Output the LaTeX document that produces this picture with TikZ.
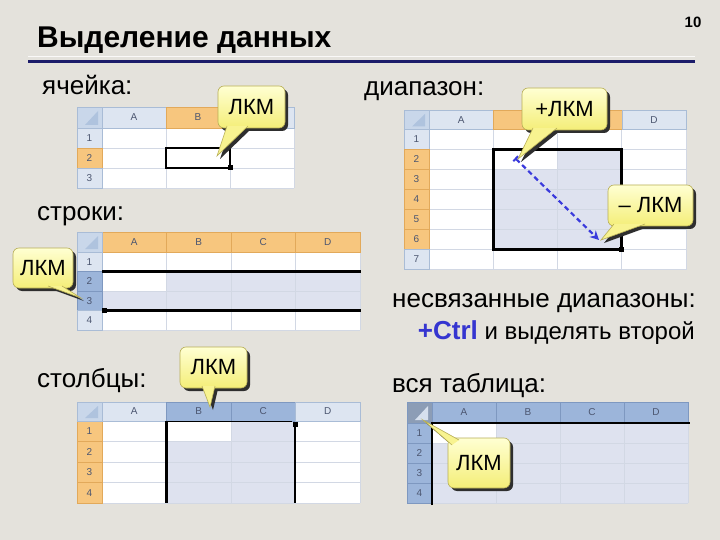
\documentclass[tikz,border=0pt]{standalone}
\usepackage{fontspec}
\setmainfont{Liberation Sans}
\usetikzlibrary{arrows.meta,calc}
\definecolor{bg}{HTML}{E4E2DC}
\definecolor{navy}{HTML}{1C1C6A}
\definecolor{hdrn}{HTML}{DDE5F1}
\definecolor{hdrline}{HTML}{A9BCD6}
\definecolor{hdro}{HTML}{F7C67E}
\definecolor{hdroline}{HTML}{E2A95A}
\definecolor{hdrb}{HTML}{9CB5DA}
\definecolor{hdrbline}{HTML}{7E98C0}
\definecolor{gridc}{HTML}{D2D8E4}
\definecolor{selc}{HTML}{DEE2EF}
\definecolor{hdrtext}{HTML}{4C5670}
\definecolor{cornc}{HTML}{C9D7EA}
\definecolor{tric}{HTML}{AFC3DE}
\definecolor{corndark}{HTML}{8C9DB6}
\definecolor{trilight}{HTML}{D6E0EE}
\definecolor{bubtop}{HTML}{FFFFD2}
\definecolor{bubbot}{HTML}{F4EE78}
\definecolor{tailc}{HTML}{F8F390}
\definecolor{bubedge}{HTML}{B7AE55}
\definecolor{shadowc}{HTML}{2E2E2E}
\definecolor{ctrlblue}{HTML}{3535D0}
\definecolor{arrowblue}{HTML}{3A3ADC}
\tikzset{
  hn/.style={fill=hdrn, draw=hdrline, line width=0.5pt},
  ho/.style={fill=hdro, draw=hdroline, line width=0.5pt},
  hb/.style={fill=hdrb, draw=hdrbline, line width=0.5pt},
  cornn/.style={fill=cornc, draw=hdrline, line width=0.5pt},
  cornd/.style={fill=corndark, draw=hdrbline, line width=0.5pt},
  gridl/.style={draw=gridc, line width=0.6pt},
  lbl/.style={font=\fontsize{10}{10}\selectfont, text=hdrtext, inner sep=0pt},
  selbox/.style={draw=black, line width=2.6pt},
  selthin/.style={draw=black, line width=1.4pt},
  handle/.style={fill=black},
  bubble/.style={draw=bubedge, line width=0.6pt, rounded corners=6pt,
    top color=bubtop, bottom color=bubbot, inner sep=0pt},
  tail/.style={fill=tailc, draw=bubedge, line width=0.6pt},
  lab/.style={font=\fontsize{26}{26}\selectfont, text=black, inner sep=0pt, anchor=base west},
  darrow/.style={draw=arrowblue, line width=2.2pt, dash pattern=on 5pt off 3.5pt,
    arrows={Bar[width=7pt,line width=2pt]-Stealth[length=9pt,width=9pt]}},
}
% column headers: x y w h list(i/label/style)
\newcommand\xlcols[5]{\foreach \i/\l/\s in {#5}{%
  \filldraw[\s] ({#1+\i*#3},#2) rectangle ++(#3,#4);
  \node[lbl] at ({#1+(\i+0.5)*#3},{#2+#4/2}) {\l};}}
% row headers: x y h list(j/label/style)
\newcommand\xlrows[4]{\foreach \j/\l/\s in {#4}{%
  \filldraw[\s] (#1,{#2+\j*#3}) rectangle ++(25,#3);
  \node[lbl] at ({#1+12.5},{#2+(\j+0.5)*#3}) {\l};}}
% grid: x y w h ncols nrows
\newcommand\xlgrid[6]{%
  \foreach \i in {0,...,#5}{\draw[gridl] ({#1+\i*#3},#2) -- ({#1+\i*#3},{#2+#4*#6});}
  \foreach \j in {0,...,#6}{\draw[gridl] (#1,{#2+\j*#4}) -- ({#1+#3*#5},{#2+\j*#4});}}
% corner: x y h style tricolor
\newcommand\xlcorner[5]{%
  \filldraw[#4] (#1,#2) rectangle ++(25,#3);
  \fill[#5] ({#1+21},{#2+4}) -- ({#1+21},{#2+#3-3}) -- ({#1+8},{#2+#3-3}) -- cycle;}
% callout: name, center, w, h, base1, tip, base2, text
\newcommand\bubble[8]{%
  \begin{scope}[shift={(3,3)}]
    \fill[shadowc,rounded corners=6pt] ($(#2)+(-#3/2,-#4/2)$) rectangle ($(#2)+(#3/2,#4/2)$);
    \fill[shadowc] (#5) -- (#6) -- (#7) -- cycle;
  \end{scope}
  \node[bubble,minimum width=#3pt,minimum height=#4pt] (#1) at (#2) {};
  \coordinate (#1tip) at (#6);
  \filldraw[tail] (#5) -- (#1tip) -- (#7);
  \node[font=\fontsize{22}{22}\selectfont, inner sep=0pt] (#1text) at (#1) {#8};}
\begin{document}
\begin{tikzpicture}[x=1pt,y=-1pt]
\useasboundingbox (0,0) rectangle (720,540);
\fill[bg] (0,0) rectangle (720,540);

% title
\node[font=\fontsize{30}{30}\selectfont\bfseries, inner sep=0pt, anchor=base west] (title) at (37,48) {Выделение данных};
\draw[draw=white!80!bg, line width=1pt] (28,56.5) -- (695,56.5);
\draw[navy, line width=3pt] (28,62) -- (695,62);
\node[font=\fontsize{15}{15}\selectfont\bfseries, inner sep=0pt] (pnum) at (693,22) {10};

% labels
\node[lab] (l1) at (42,95) {ячейка:};
\node[lab] (l2) at (364,96) {диапазон:};
\node[lab] (l3) at (37,221) {строки:};
\node[lab] (l4) at (37,387) {столбцы:};
\node[lab] (l5) at (392,307) {несвязанные диапазоны:};
\node[font=\fontsize{24}{24}\selectfont, inner sep=0pt, anchor=base east] (l6) at (695,339)
  {{\fontsize{26}{26}\selectfont\bfseries\color{ctrlblue}+Ctrl} и выделять второй};
\node[lab] (l7) at (392,392) {вся таблица:};

% ---------- table 1 (cell) ----------
\fill[white] (102,128) rectangle (294,188);
\xlgrid{102}{128}{64}{20}{3}{3}
\xlcols{102}{107}{64}{21}{0/A/hn,1/B/ho,2/{}/hn}
\xlrows{77}{128}{20}{0/1/hn,1/2/ho,2/3/hn}
\xlcorner{77}{107}{21}{cornn}{tric}
\draw[selbox] (166,148) rectangle (230,168);
\fill[handle] (227.5,165.5) rectangle ++(5,5);

% ---------- table 2 (range) ----------
\fill[white] (429,129.5) rectangle (686,269.5);
\fill[selc] (493.25,149.5) rectangle (621.5,249.5);
\fill[white] (493.25,149.5) rectangle (557.5,169.5);
\xlgrid{429}{129.5}{64.25}{20}{4}{7}
\xlcols{429}{110}{64.25}{19.5}{0/A/hn,1/{}/ho,2/{}/ho,3/D/hn}
\xlrows{404}{129.5}{20}{0/1/hn,1/2/ho,2/3/ho,3/4/ho,4/5/ho,5/6/ho,6/7/hn}
\xlcorner{404}{110}{19.5}{cornn}{tric}
\draw[selbox] (493.25,149.5) rectangle (621.5,249.5);
\fill[handle] (619,247) rectangle ++(5,5);

% ---------- table 3 (rows) ----------
\fill[white] (102,252) rectangle (360,330);
\fill[selc] (166.5,271.5) rectangle (360,291);
\fill[selc] (102,291) rectangle (360,310.5);
\xlgrid{102}{252}{64.5}{19.5}{4}{4}
\xlcols{102}{232}{64.5}{20}{0/A/ho,1/B/ho,2/C/ho,3/D/ho}
\xlrows{77}{252}{19.5}{0/1/hn,1/2/hb,2/3/hb,3/4/hn}
\xlcorner{77}{232}{20}{cornn}{tric}
\draw[selbox] (102,271.5) -- (361,271.5);
\draw[selbox] (102,310.5) -- (361,310.5);
\fill[handle] (101.5,308) rectangle ++(5,5);

% ---------- table 4 (columns) ----------
\fill[white] (102,421) rectangle (360,503);
\fill[selc] (166.5,421) rectangle (295,503);
\fill[white] (166.5,421) rectangle (231,441.5);
\xlgrid{102}{421}{64.5}{20.5}{4}{4}
\xlcols{102}{402}{64.5}{19}{0/A/hn,1/B/hb,2/C/hb,3/D/hn}
\xlrows{77}{421}{20.5}{0/1/ho,1/2/ho,2/3/ho,3/4/ho}
\xlcorner{77}{402}{19}{cornn}{tric}
\draw[selthin] (166.5,421.5) -- (292,421.5);
\draw[selbox] (166.5,421) -- (166.5,503);
\draw[selbox] (295,427) -- (295,503);
\fill[handle] (292.5,422) rectangle ++(5,5);

% ---------- table 5 (whole sheet) ----------
\fill[selc] (432,423) rectangle (688,503);
\fill[white] (432,423) rectangle (496,443);
\xlgrid{432}{423}{64}{20}{4}{4}
\xlcols{432}{402}{64}{21}{0/A/hb,1/B/hb,2/C/hb,3/D/hb}
\xlrows{407}{423}{20}{0/1/hb,1/2/hb,2/3/hb,3/4/hb}
\xlcorner{407}{402}{21}{cornd}{trilight}
\draw[selbox] (432,505) -- (432,423) -- (690,423);

% ---------- dashed drag arrow ----------
\coordinate (ds) at (515,158);
\coordinate (de) at (599,240);
\draw[darrow] (ds) -- (de);

% ---------- callouts ----------
\bubble{c1}{251.5,107}{67}{42}{227,126}{217,156}{248,126}{ЛКМ}
\bubble{c2}{564.5,109}{85}{42}{533,128}{518,159}{557,128}{+ЛКМ}
\bubble{c3}{650.5,205.5}{85}{41}{614,224}{601,240}{645,224}{– ЛКМ}
\bubble{c4}{43,268}{60}{40}{48,286}{81,298}{62,286}{ЛКМ}
\bubble{c5}{213.5,367.5}{67}{41}{202,386}{210,407}{215,386}{ЛКМ}
\bubble{c6}{479,463}{62}{50}{452,445}{423,420}{459,440}{ЛКМ}
\end{tikzpicture}
\end{document}
